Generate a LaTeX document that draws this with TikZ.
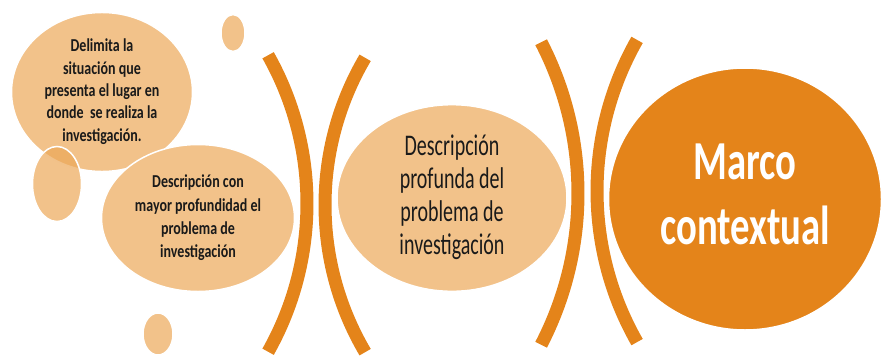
\documentclass[tikz,border=0pt]{standalone}
\usepackage{graphicx}
\usepackage{fontspec}
\setmainfont{Carlito}
\usetikzlibrary{shapes.geometric}
\definecolor{lightor}{HTML}{F2C28A}
\definecolor{darkor}{HTML}{E4841A}
\definecolor{midor}{HTML}{ECA858}
\definecolor{txt}{HTML}{1A1A1A}
\newcommand{\ytext}[3]{\scalebox{1}[#1]{#2\begin{tabular}{@{}c@{}}#3\end{tabular}}}
\begin{document}
\begin{tikzpicture}[x=1pt,y=-1pt,
  blob/.style={ellipse, inner sep=0pt, draw=white, line width=1.5pt, fill=lightor, text=txt},
  bigblob/.style={ellipse, inner sep=0pt, draw=white, line width=1.5pt, fill=darkor, text=white},
  bracket/.style={draw=darkor, line width=13pt, line cap=butt}]
\useasboundingbox (0,0) rectangle (881,362);
% decorative small circles
\node[blob, minimum width=24pt, minimum height=37pt] (c1) at (233,33) {};
\node[blob, minimum width=30pt, minimum height=42pt] (c3) at (158,334) {};
% ellipse 1
\node[blob, minimum width=181pt, minimum height=147pt] (e1) at (102,92)
  {\ytext{1.3}{\fontsize{14}{17.3}\selectfont\bfseries}{Delimita la\\ situación que\\ presenta el lugar en\\ donde\ \ se realiza la\\ investigación.}};
% overlapping circle
\node[ellipse, inner sep=0pt, draw=white, line width=1.5pt, fill=midor, fill opacity=0.7,
  minimum width=49pt, minimum height=75pt] (c2) at (57,184) {};
% ellipse 2
\node[blob, minimum width=193pt, minimum height=147pt] (e2) at (198,218)
  {\ytext{1.3}{\fontsize{14}{17.9}\selectfont\bfseries}{Descripción con\\ mayor profundidad el\\ problema de\\ investigación}};
% ellipse 3
\node[blob, minimum width=230pt, minimum height=160pt] (e3) at (452,198)
  {\ytext{1.5}{\fontsize{20}{22}\selectfont}{Descripción\\ profunda del\\ problema de\\ investigación}};
% ellipse 4
\node[bigblob, minimum width=273pt, minimum height=262pt] (e4) at (745,199)
  {\ytext{1.42}{\fontsize{38.7}{45.8}\selectfont\bfseries}{Marco\\ contextual}};
% brackets
\draw[bracket] (5,203.5) ++(-29.4:302) arc[start angle=-29.4, end angle=29.4, radius=302];
\draw[bracket] (615,205) ++(149.5:290) arc[start angle=149.5, end angle=210.5, radius=290];
\draw[bracket] (249.3,193.5) ++(-27.4:328.7) arc[start angle=-27.4, end angle=27.4, radius=328.7];
\draw[bracket] (902,191) ++(150.3:305) arc[start angle=150.3, end angle=209.7, radius=305];
\end{tikzpicture}
\end{document}
